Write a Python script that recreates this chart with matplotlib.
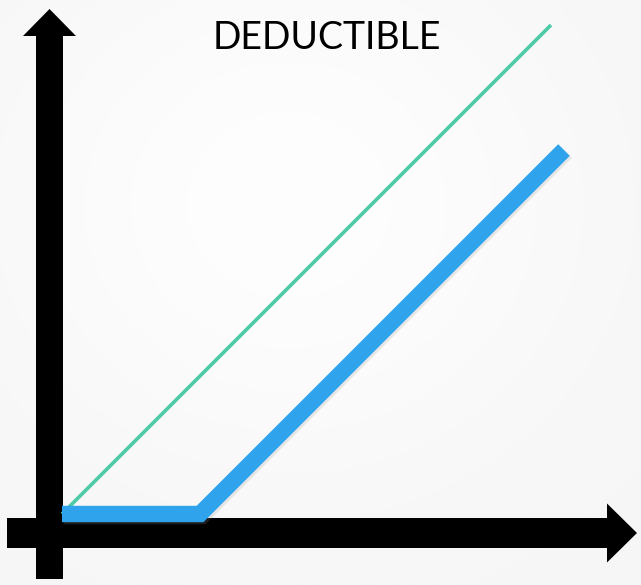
import matplotlib
matplotlib.use("Agg")
import matplotlib.pyplot as plt
import matplotlib.patheffects as pe
from matplotlib.patches import Polygon
import numpy as np

# Loss amount vs. insurer payment under a deductible
deductible = 138
loss = [0, 138, 502]
payment = [max(0, v - deductible) for v in loss]
# reference line: payment equals loss (no deductible)
full_loss = [0, 489]
full_payment = [0, 489]

title = "DEDUCTIBLE"

fig = plt.figure(figsize=(6.41, 5.85), dpi=100)
fig.patch.set_facecolor("#f4f4f4")
ax = fig.add_axes([0, 0, 1, 1])
ax.set_xlim(-62, 579)
ax.set_ylim(-71, 514)
ax.set_axis_off()
ax.set_facecolor("#f4f4f4")

# soft background glow
yy, xx = np.mgrid[0:1:300j, 0:1:300j]
glow = np.exp(-((xx - 0.45) ** 2 + (yy - 0.35) ** 2) / 0.25)
ax.imshow(glow, extent=(-62, 579, -71, 514), cmap="Greys_r", vmin=-14, vmax=1.2,
          alpha=1, zorder=0, aspect="auto")

# vertical axis arrow
vx, vw = -12.5, 13.5
v_shape = [(vx - vw, -65), (vx + vw, -65), (vx + vw, 478), (vx + 26.5, 478),
           (vx, 505), (vx - 26.5, 478), (vx - vw, 478)]
ax.add_patch(Polygon(v_shape, closed=True, facecolor="black", edgecolor="none", zorder=2))

# horizontal axis arrow
hy, hw = -19, 15
h_shape = [(-55, hy - hw), (-55, hy + hw), (545, hy + hw), (545, hy + 29.5),
           (575, hy), (545, hy - 29.5), (545, hy - hw)]
ax.add_patch(Polygon(h_shape, closed=True, facecolor="black", edgecolor="none", zorder=2))

ax.plot(full_loss, full_payment, color="#4ecaa9", lw=2.6, solid_capstyle="butt", zorder=3)

ax.plot(loss, payment, color="#2fa3ec", lw=11.8, solid_capstyle="butt",
        solid_joinstyle="miter", zorder=4,
        path_effects=[pe.SimpleLineShadow(offset=(1.5, -1.5), shadow_color="#999999", alpha=0.2),
                      pe.Normal()])

fig.text(0.51, 0.935, title, ha="center", va="center", fontsize=27,
         family=["Lato", "DejaVu Sans"], color="black")

fig.savefig("out.png", dpi=100, facecolor=fig.get_facecolor())
